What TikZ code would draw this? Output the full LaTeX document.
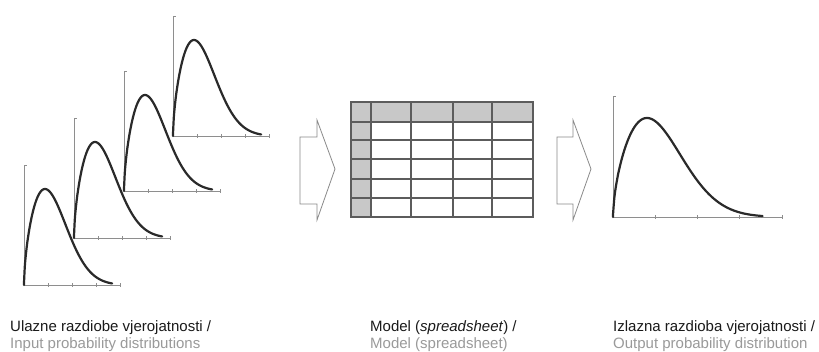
\documentclass[tikz,border=0pt]{standalone}
\usepackage{fontspec}
\setmainfont{Liberation Sans}
\definecolor{axisgray}{HTML}{8E8E8E}
\definecolor{curvecol}{HTML}{2A2A2A}
\definecolor{gridcol}{HTML}{5C5C5C}
\definecolor{cellgray}{HTML}{C8C8C8}
\definecolor{arrowgray}{HTML}{8A8A8A}
\definecolor{titlecol}{HTML}{1A1A1A}
\definecolor{subcol}{HTML}{9A9A9A}
\tikzset{
  axisline/.style={draw=axisgray, line width=0.9pt},
  curveline/.style={draw=curvecol, line width=2.2pt, line cap=round, line join=round},
  gridline/.style={draw=gridcol, line width=1.1pt},
  blockarrow/.style={draw=arrowgray, line width=0.8pt, line join=miter},
  titletext/.style={text=titlecol, inner sep=0pt, anchor=base west, font=\fontsize{15}{17}\selectfont},
  subtext/.style={text=subcol, inner sep=0pt, anchor=base west, font=\fontsize{15}{17}\selectfont}
}
% #1 x0, #2 y0, #3 axis width, #4 axis height, #5 peak offset, #6 peak height, #7 max u
\newcommand\dchart[7]{%
  \begin{scope}[shift={(#1,#2)}]
    \draw[axisline] (0,-#4) -- (0,0) -- (#3,0);
    \draw[axisline] (0,-#4) -- (3,-#4);
    \foreach \k in {1,2,3,4} \draw[axisline] ({\k*#3/4},-2) -- ({\k*#3/4},2);
    \draw[curveline] (0,0) -- plot[domain=0.002:#7, samples=120, smooth]
      ({#5*\x},{-#6*pow(\x,0.6)*exp(0.3*(1-\x*\x))});
  \end{scope}}
\begin{document}
\begin{tikzpicture}[x=1pt,y=-1pt]
\useasboundingbox (0,0) rectangle (819,351);
\fill[white] (0,0) rectangle (819,351);

% input distributions
\dchart{24}{285}{96}{120}{21}{96}{4.2}
\dchart{74}{238}{96}{120}{21}{96}{4.2}
\dchart{124}{191}{96}{120}{21}{96}{4.2}
\dchart{173}{136}{96}{120}{21}{96}{4.2}

% arrow 1
\draw[blockarrow] (300,137) -- (317,137) -- (317,120) -- (335,169) -- (317,220) -- (317,204) -- (300,204) -- cycle;

% spreadsheet
\fill[cellgray] (351,102) rectangle (533,122);
\fill[cellgray] (351,102) rectangle (371,217);
\draw[gridline] (351,102) rectangle (533,217);
\foreach \yy in {122,140,159,179,198} \draw[gridline] (351,\yy) -- (533,\yy);
\foreach \xx in {371,411,453,492} \draw[gridline] (\xx,102) -- (\xx,217);

% arrow 2
\draw[blockarrow] (557,137) -- (573,137) -- (573,120) -- (591,169) -- (573,220) -- (573,204) -- (557,204) -- cycle;

% output distribution
\dchart{613}{217}{169}{121}{34}{99}{4.4}

% labels
\node[titletext] (t1) at (10,331) {Ulazne razdiobe vjerojatnosti /};
\node[subtext] (s1) at (10,348) {Input probability distributions};
\node[titletext] (t2) at (370,331) {Model (\textit{spreadsheet}) /};
\node[subtext] (s2) at (370,348) {Model (spreadsheet)};
\node[titletext] (t3) at (613,331) {Izlazna razdioba vjerojatnosti /};
\node[subtext] (s3) at (613,348) {Output probability distribution};
\end{tikzpicture}
\end{document}
